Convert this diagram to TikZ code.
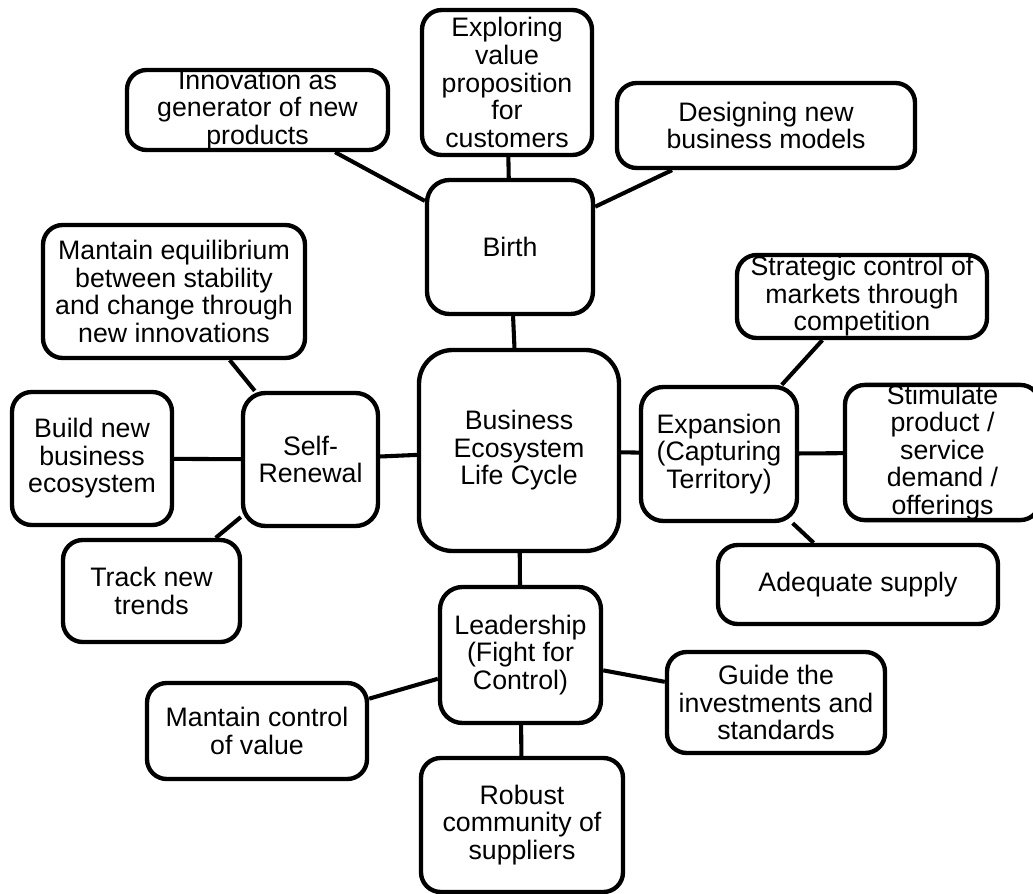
\documentclass[tikz,border=0pt]{standalone}
\usepackage{fontspec}
\setmainfont{Liberation Sans}
\usepackage{tikz}

\tikzset{
  box/.style 2 args={draw, fill=white, line width=3.1pt, rounded corners=14pt,
    align=center, inner sep=0pt,
    minimum width=#1*0.025cm, minimum height=#2*0.025cm},
  link/.style={line width=2.9pt}
}

\begin{document}
\begin{tikzpicture}[x=0.025cm,y=-0.025cm,
    font=\fontsize{19pt}{19.6pt}\selectfont]
\useasboundingbox (0,0) rectangle (1033,894);

\node[box={261}{80}] (innov) at (257.5,110) {Innovation as\\generator of new\\products};
\node[box={170}{145}] (explore) at (507,82.5) {Exploring\\value\\proposition\\for\\customers};
\node[box={298}{85}] (design) at (766,125.5) {Designing new\\business models};
\node[box={166}{134}, rounded corners=16pt] (birth) at (510,247) {Birth};

\node[box={262}{133}] (equil) at (174,291.5) {Mantain equilibrium\\between stability\\and change through\\new innovations};
\node[box={160}{133}] (build) at (92,458.5) {Build new\\business\\ecosystem};
\node[box={135}{133}, rounded corners=16pt] (renew) at (310.5,459.5) {Self-\\Renewal};
\node[box={177}{102}] (track) at (151.5,591) {Track new\\trends};

\node[box={200}{201}, rounded corners=24pt] (cycle) at (519,450.5) {Business\\Ecosystem\\Life Cycle};

\node[box={250}{83}] (strat) at (862,296.5) {Strategic control of\\markets through\\competition};
\node[box={156}{134}, rounded corners=16pt] (expand) at (719,454) {Expansion\\(Capturing\\Territory)};
\node[box={195}{135}] (demand) at (942.5,452.5) {Stimulate\\product /\\service\\demand /\\offerings};
\node[box={280}{79}] (supply) at (858,584.5) {Adequate supply};

\node[box={161}{136}, rounded corners=16pt] (lead) at (520.5,655) {Leadership\\(Fight for\\Control)};
\node[box={220}{96}] (value) at (257,731) {Mantain control\\of value};
\node[box={218}{101}] (guide) at (776,702.5) {Guide the\\investments and\\standards};
\node[box={202}{134}] (suppl) at (522,825) {Robust\\community of\\suppliers};

\foreach \a/\b in {innov/birth, explore/birth, design/birth, birth/cycle,
    equil/renew, build/renew, track/renew, renew/cycle,
    strat/expand, demand/expand, supply/expand, expand/cycle,
    value/lead, guide/lead, suppl/lead, lead/cycle}
  \draw[link] (\a) -- (\b);
\end{tikzpicture}
\end{document}
